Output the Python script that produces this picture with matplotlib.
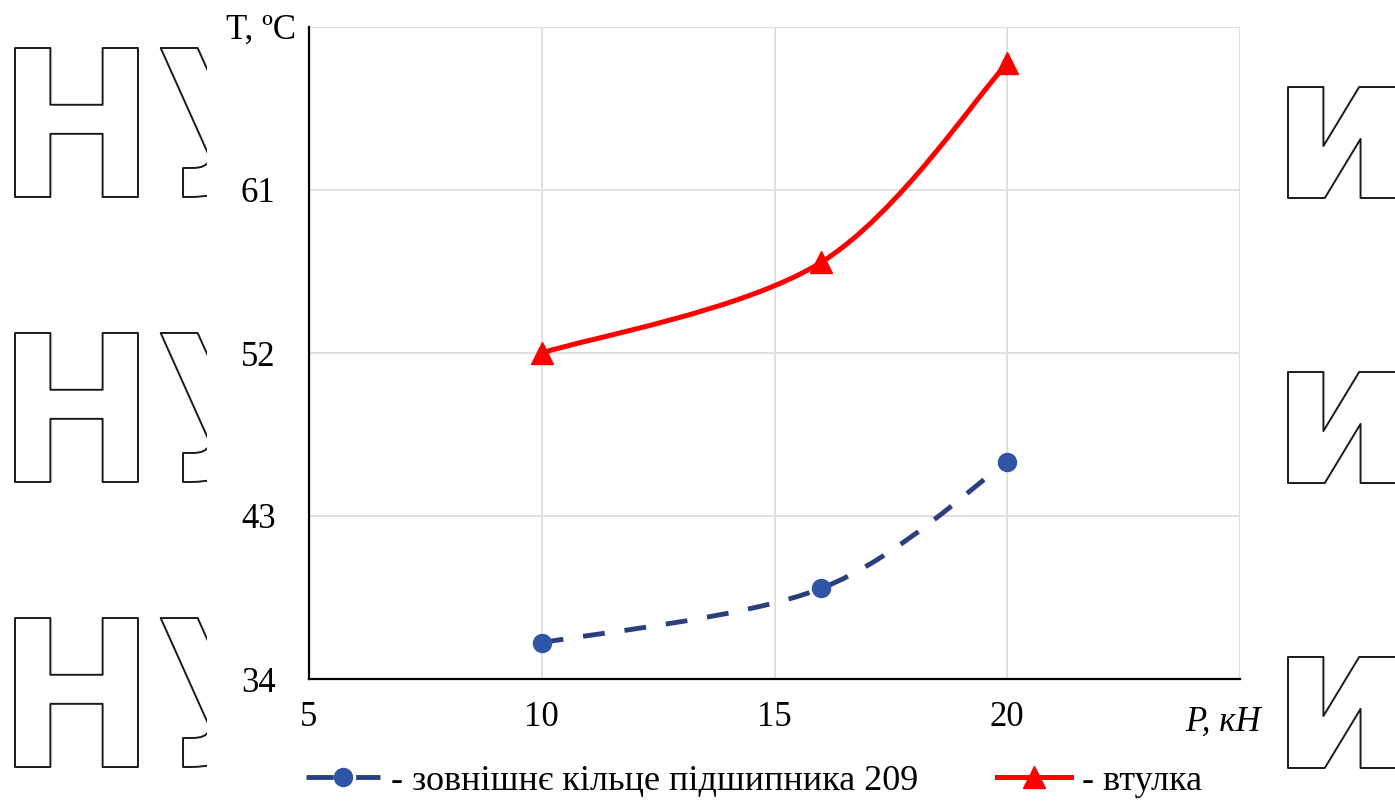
import numpy as np
import matplotlib
matplotlib.use('Agg')
import matplotlib.pyplot as plt
from matplotlib.path import Path
from matplotlib.patches import PathPatch, Rectangle
from matplotlib.lines import Line2D
from matplotlib.textpath import TextPath
from matplotlib.font_manager import FontProperties
from matplotlib.transforms import Affine2D

plt.rcParams['font.family'] = ['Liberation Serif', 'DejaVu Serif']

# навантаження P, кН
load_kn = [10, 16, 20]
# температура зовнішнього кільця підшипника 209, °C
t_ring = [36, 39, 46]
# температура втулки, °C
t_sleeve = [52, 57, 68]

x_ticks = [5, 10, 15, 20, 25]
x_labels = ['5', '10', '15', '20', '']
y_ticks = [34, 43, 52, 61, 70]
y_labels = ['34', '43', '52', '61', '']

label_ring = '- зовнішнє кільце підшипника 209'
label_sleeve = '- втулка'

W, H = 1395, 809
blue_line = '#2b3f7e'
blue_mark = '#2f55a6'
red = '#ff0000'


def smooth_path(xs, ys):
    # згладжена лінія через точки: кубічні криві Безьє
    pts = np.column_stack([xs, ys]).astype(float)
    n = len(pts)
    verts = [pts[0]]
    codes = [Path.MOVETO]
    for i in range(n - 1):
        p_prev = pts[max(i - 1, 0)]
        p0 = pts[i]
        p1 = pts[i + 1]
        p_next = pts[min(i + 2, n - 1)]
        verts += [p0 + (p1 - p_prev) / 6, p1 - (p_next - p0) / 6, p1]
        codes += [Path.CURVE4] * 3
    return Path(verts, codes)


def outline_text(fig, s, left, top, width, height):
    # контурні літери фону; розмір задається за першою літерою, у пікселях
    prop = FontProperties(family='DejaVu Sans', weight='bold')
    ref = TextPath((0, 0), s[0], size=1, prop=prop).get_extents()
    tp = TextPath((0, 0), s, size=1, prop=prop)
    sx = width / ref.width
    sy = height / ref.height
    tr = (Affine2D().translate(-ref.x0, -ref.y1).scale(sx, sy)
          .translate(left, H - top).scale(1 / fig.dpi) + fig.dpi_scale_trans)
    fig.add_artist(PathPatch(tp, transform=tr, facecolor='white',
                             edgecolor='#1a1a1a', lw=1.4, joinstyle='round',
                             zorder=-3))


fig = plt.figure(figsize=(W / 100, H / 100), dpi=100)

for top in [48, 333, 618]:
    outline_text(fig, 'НУ', 15, top, 123, 149)
for top in [87, 372, 657]:
    outline_text(fig, 'и', 1288, top, 108, 111)

# біле поле під діаграмою
fig.add_artist(Rectangle((207 / W, 0), (1285 - 207) / W, 1,
                         transform=fig.transFigure, facecolor='white',
                         edgecolor='none', zorder=-1))

ax = fig.add_axes([309 / W, 130 / H, (1240 - 309) / W, (782 - 130) / H])
ax.set_xlim(5, 25)
ax.set_ylim(34, 70)
ax.set_xticks(x_ticks, labels=x_labels)
ax.set_yticks(y_ticks, labels=y_labels)
ax.grid(True, color='#e0e0e0', lw=1.4)
ax.set_axisbelow(True)
ax.tick_params(axis='both', length=0, labelsize=25)
ax.tick_params(axis='x', pad=16)
ax.tick_params(axis='y', pad=24)
for side in ['top', 'right']:
    ax.spines[side].set_visible(False)
for side in ['left', 'bottom']:
    ax.spines[side].set_linewidth(1.6)
    ax.spines[side].set_color('black')
    ax.spines[side].set_zorder(4)

ring_ls = (0, (4.5, 4.1))
ax.add_patch(PathPatch(smooth_path(load_kn, t_ring), facecolor='none',
                       edgecolor=blue_line, lw=3.5, linestyle=ring_ls, zorder=2))
ax.plot(load_kn, t_ring, ls='none', marker='o', ms=13, color=blue_mark, zorder=3)

ax.add_patch(PathPatch(smooth_path(load_kn, t_sleeve), facecolor='none',
                       edgecolor=red, lw=3.6, zorder=2))
ax.plot(load_kn, t_sleeve, ls='none', marker='^', ms=16, color=red, zorder=3)

ax.annotate('T, ºC', xy=(0, 1), xycoords='axes fraction', xytext=(-9, -2),
            textcoords='offset points', ha='right', va='center', fontsize=25,
            annotation_clip=False)
ax.annotate('P, кН', xy=(1, 0), xycoords='axes fraction', xytext=(-12, -31),
            textcoords='offset points', ha='center', va='center', fontsize=25,
            style='italic', annotation_clip=False)

handles = [
    Line2D([], [], color=blue_line, lw=3.5, ls=(0, (5.6, 4.6)), marker='o',
           ms=13, mfc=blue_mark, mec=blue_mark),
    Line2D([], [], color=red, lw=3.6, marker='^', ms=16),
]
fig.legend(handles, [label_ring, label_sleeve], loc='center',
           bbox_to_anchor=(754 / W, 1 - 781 / H), ncol=2, frameon=False,
           fontsize=26, handlelength=2.05, handletextpad=0.3,
           columnspacing=2.2)

fig.savefig('out.png', dpi=100)
